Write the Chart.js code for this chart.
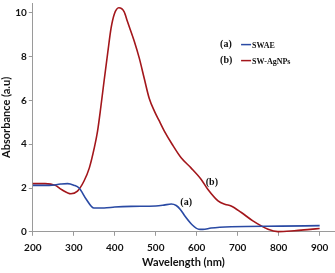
<!DOCTYPE html>
<html>
<head>
<meta charset="utf-8">
<script src="https://cdn.jsdelivr.net/npm/chart.js@4"></script>
<style>
  html, body { margin: 0; padding: 0; background: #fff; }
  #wrap { width: 335px; height: 273px; position: relative; }
</style>
</head>
<body>
<div id="wrap"><canvas id="chart"></canvas></div>
<script>
// wavelength (nm) / absorbance
const swaeX = [200, 240, 268, 285, 300, 313, 330, 349, 374, 400, 440, 500, 520, 538, 550, 560, 572, 590, 605, 615, 635, 684, 806, 900];
const swaeY = [2.12, 2.12, 2.18, 2.2, 2.13, 2.0, 1.5, 1.09, 1.09, 1.13, 1.16, 1.18, 1.22, 1.27, 1.2, 1.02, 0.7, 0.3, 0.12, 0.11, 0.17, 0.23, 0.26, 0.28];

const agX = [200, 230, 255, 270, 293, 309, 325, 338, 350, 358, 366, 374, 383, 391, 399, 410, 423, 431, 448, 460, 472, 484, 497, 509, 521, 540, 562, 586, 611, 627, 652, 670, 684, 709, 737, 774, 798, 838, 870, 900];
const agY = [2.2, 2.2, 2.12, 1.93, 1.74, 1.86, 2.32, 2.92, 3.83, 4.6, 5.7, 6.9, 8.2, 9.3, 9.95, 10.23, 10.05, 9.6, 8.68, 7.92, 7.0, 6.1, 5.5, 5.05, 4.6, 4.0, 3.38, 2.92, 2.39, 1.94, 1.41, 1.25, 1.18, 0.88, 0.5, 0.12, 0.01, 0.05, 0.1, 0.15];

const xTicks = [200, 300, 400, 500, 600, 700, 800, 900];
const yTicks = [0, 2, 4, 6, 8, 10];

const seriesNames = ["SWAE", "SW-AgNPs"];
const seriesTags = ["(a)", "(b)"];
const colors = ["#2a4aa4", "#a3161b"];

const toPts = (xs, ys) => xs.map((x, i) => ({ x: x, y: ys[i] }));

// legend + (a)/(b) labels
const notes = {
  id: "notes",
  afterDatasetsDraw(chart) {
    const ctx = chart.ctx;
    const xs = chart.scales.x, ys = chart.scales.y;
    ctx.save();
    ctx.textBaseline = "middle";
    const lx = xs.getPixelForValue(657), ly = ys.getPixelForValue(8.55);
    for (let i = 0; i < 2; i++) {
      const y = ly + i * 16;
      ctx.fillStyle = "#111";
      ctx.font = "bold 10px 'Liberation Serif'";
      ctx.fillText(seriesTags[i], lx, y);
      ctx.strokeStyle = colors[i];
      ctx.lineWidth = 1.5;
      ctx.beginPath();
      ctx.moveTo(lx + 21, y);
      ctx.lineTo(lx + 31, y);
      ctx.stroke();
      ctx.font = "bold 8px 'Liberation Serif'";
      ctx.fillText(seriesNames[i], lx + 32, y + 1);
    }
    ctx.font = "bold 10px 'Liberation Serif'";
    ctx.fillText("(a)", xs.getPixelForValue(560), ys.getPixelForValue(1.32));
    ctx.fillText("(b)", xs.getPixelForValue(622), ys.getPixelForValue(2.27));
    ctx.restore();
  }
};

new Chart(document.getElementById("chart"), {
  type: "scatter",
  data: {
    datasets: [
      { label: seriesNames[0], data: toPts(swaeX, swaeY), borderColor: colors[0], showLine: true, cubicInterpolationMode: "monotone", pointRadius: 0, borderWidth: 1.6 },
      { label: seriesNames[1], data: toPts(agX, agY), borderColor: colors[1], showLine: true, cubicInterpolationMode: "monotone", pointRadius: 0, borderWidth: 1.6, clip: false }
    ]
  },
  options: {
    responsive: true,
    maintainAspectRatio: false,
    animation: false,
    layout: { padding: { top: 1, right: 1, left: 0, bottom: 4 } },
    plugins: { legend: { display: false }, tooltip: { enabled: false } },
    scales: {
      x: {
        type: "linear",
        min: 200,
        max: 935,
        afterBuildTicks: (axis) => { axis.ticks = xTicks.map(v => ({ value: v })); },
        border: { color: "#9a9a9a", width: 1 },
        grid: { drawOnChartArea: false, tickLength: 4, color: "#9a9a9a" },
        ticks: { color: "#111", font: { family: "Lato", weight: "bold", size: 10 }, padding: 6, maxRotation: 0 },
        title: { display: true, text: "Wavelength (nm)", color: "#111", font: { family: "Lato", weight: "bold", size: 11 }, padding: { top: -4, bottom: 0 } }
      },
      y: {
        min: 0,
        max: 10.45,
        afterBuildTicks: (axis) => { axis.ticks = yTicks.map(v => ({ value: v })); },
        border: { color: "#9a9a9a", width: 1 },
        grid: { drawOnChartArea: false, tickLength: 4, color: "#9a9a9a" },
        ticks: { color: "#111", font: { family: "Lato", weight: "bold", size: 10, lineHeight: 0.2 }, padding: 2 },
        title: { display: true, text: "Absorbance (a.u)", color: "#111", font: { family: "Lato", weight: "bold", size: 11 }, padding: { top: 0, bottom: 0 } }
      }
    }
  },
  plugins: [notes]
});
</script>
</body>
</html>
